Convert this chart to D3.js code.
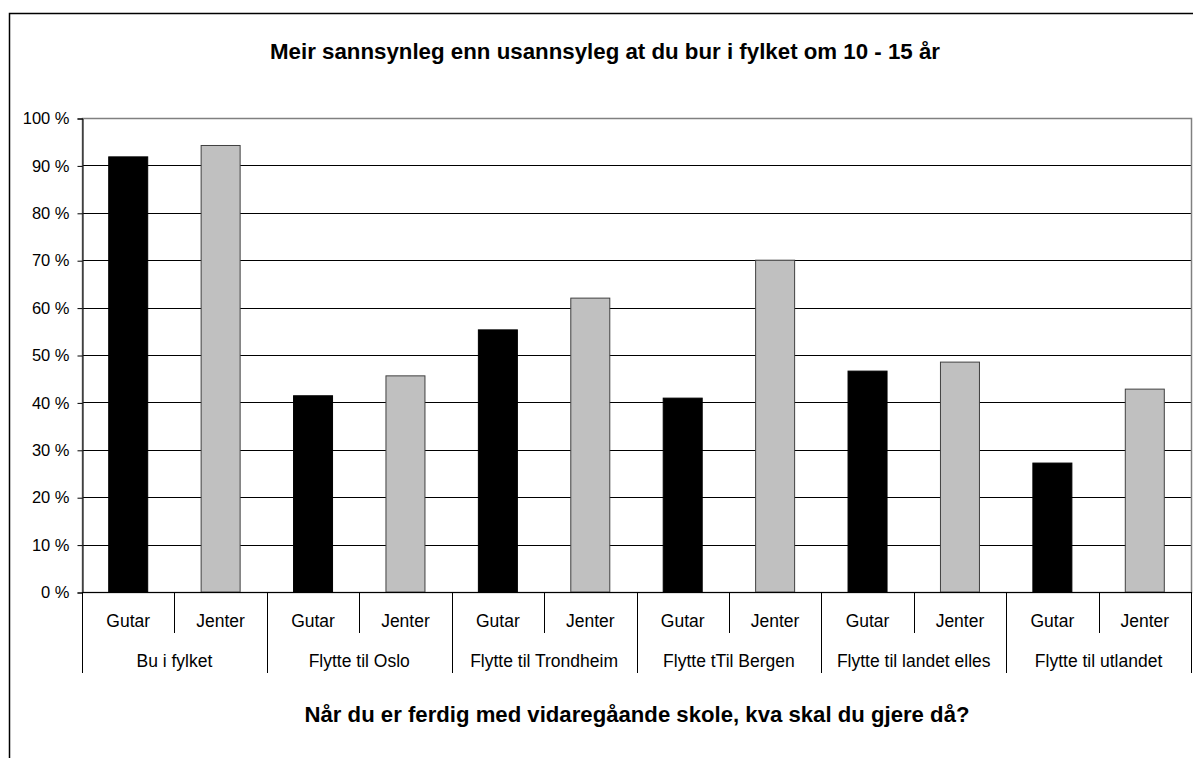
<!DOCTYPE html>
<html>
<head>
<meta charset="utf-8">
<script src="https://cdn.jsdelivr.net/npm/d3@7"></script>
<style>
  body { margin: 0; background: #fff; }
  svg { font-family: "Liberation Sans", Arial, sans-serif; }
</style>
</head>
<body>
<script>
var groups = ["Bu i fylket", "Flytte til Oslo", "Flytte til Trondheim", "Flytte tTil Bergen", "Flytte til landet elles", "Flytte til utlandet"];
var genders = ["Gutar", "Jenter"];
var gutar = [91.8, 41.4, 55.3, 40.9, 46.6, 27.2];
var jenter = [94.2, 45.6, 62.0, 70.0, 48.5, 42.8];
var yTicks = [0, 10, 20, 30, 40, 50, 60, 70, 80, 90, 100];
var title = "Meir sannsynleg enn usannsyleg at du bur i fylket om 10 - 15 år";
var xTitle = "Når du er ferdig med vidaregåande skole, kva skal du gjere då?";

function main() {
  var W = 1193, H = 758;
  var left = 82, right = 1191, top = 118, bottom = 592;

  var svg = d3.select("body").append("svg")
    .attr("width", W)
    .attr("height", H);

  // outer chart frame
  svg.append("rect")
    .attr("x", 9.5).attr("y", 13.5)
    .attr("width", 1300).attr("height", 900)
    .attr("fill", "none")
    .attr("stroke", "#000")
    .attr("stroke-width", 1.5);

  var y = d3.scaleLinear().domain([0, 100]).range([bottom, top]);
  var x0 = d3.scaleBand().domain(groups).range([left, right]);
  var x1 = d3.scaleBand().domain(genders).range([0, x0.bandwidth()])
    .paddingInner(0.578).paddingOuter(0.289);

  // gridlines
  svg.append("g").selectAll("line")
    .data(yTicks.filter(function(d) { return d > 0 && d < 100; }))
    .enter().append("line")
    .attr("x1", left).attr("x2", right)
    .attr("y1", function(d) { return Math.round(y(d)) + 0.5; })
    .attr("y2", function(d) { return Math.round(y(d)) + 0.5; })
    .attr("stroke", "#000");

  // plot area border (gray)
  svg.append("rect")
    .attr("x", left + 0.5).attr("y", Math.round(top) + 0.5)
    .attr("width", right - left).attr("height", bottom - top)
    .attr("fill", "none")
    .attr("stroke", "#808080")
    .attr("stroke-width", 1.5);

  // bars
  var data = [];
  for (var i = 0; i < groups.length; i++) {
    data.push({ group: groups[i], gender: "Gutar", value: gutar[i] });
    data.push({ group: groups[i], gender: "Jenter", value: jenter[i] });
  }
  svg.append("g").selectAll("rect")
    .data(data)
    .enter().append("rect")
    .attr("x", function(d) { return x0(d.group) + x1(d.gender); })
    .attr("y", function(d) { return y(d.value); })
    .attr("width", x1.bandwidth())
    .attr("height", function(d) { return bottom - y(d.value); })
    .attr("fill", function(d) { return d.gender == "Gutar" ? "#000" : "#c0c0c0"; })
    .attr("stroke", function(d) { return d.gender == "Gutar" ? "#000" : "#404040"; })
    .attr("stroke-width", 1);

  // y axis
  var yAxis = d3.axisLeft(y)
    .tickValues(yTicks)
    .tickSize(5)
    .tickPadding(8)
    .tickFormat(function(d) { return d + " %"; });
  var yg = svg.append("g")
    .attr("transform", "translate(" + (left + 0.5) + ",0.5)")
    .call(yAxis);
  yg.select(".domain").attr("stroke", "#000");
  yg.selectAll(".tick line").attr("stroke", "#000");
  yg.selectAll(".tick text")
    .attr("font-size", 16.5)
    .attr("font-family", "Liberation Sans, Arial, sans-serif")
    .attr("fill", "#000");

  // x axis baseline
  svg.append("line")
    .attr("x1", left).attr("x2", right)
    .attr("y1", bottom + 0.5).attr("y2", bottom + 0.5)
    .attr("stroke", "#000");

  // category axis dividers
  var catG = svg.append("g");
  groups.forEach(function(g) {
    catG.append("line")
      .attr("x1", Math.round(x0(g) + x0.bandwidth() / 2) + 0.5)
      .attr("x2", Math.round(x0(g) + x0.bandwidth() / 2) + 0.5)
      .attr("y1", bottom).attr("y2", 633)
      .attr("stroke", "#000");
  });
  var bounds = groups.map(function(g) { return x0(g); }).concat([right]);
  catG.selectAll("line.bound")
    .data(bounds)
    .enter().append("line")
    .attr("class", "bound")
    .attr("x1", function(d) { return Math.round(d) + 0.5; })
    .attr("x2", function(d) { return Math.round(d) + 0.5; })
    .attr("y1", bottom).attr("y2", 673)
    .attr("stroke", "#000");

  // gender labels
  catG.selectAll("text.gender")
    .data(data)
    .enter().append("text")
    .attr("class", "gender")
    .attr("x", function(d) { return x0(d.group) + x1(d.gender) + x1.bandwidth() / 2; })
    .attr("y", 627)
    .attr("text-anchor", "middle")
    .attr("font-size", 17.5)
    .text(function(d) { return d.gender; });

  // group labels
  catG.selectAll("text.group")
    .data(groups)
    .enter().append("text")
    .attr("class", "group")
    .attr("x", function(d) { return x0(d) + x0.bandwidth() / 2; })
    .attr("y", 667)
    .attr("text-anchor", "middle")
    .attr("font-size", 17.5)
    .text(function(d) { return d; });

  // titles
  svg.append("text")
    .attr("x", 605).attr("y", 59)
    .attr("text-anchor", "middle")
    .attr("font-size", 22.5)
    .attr("font-weight", "bold")
    .attr("textLength", 670)
    .attr("lengthAdjust", "spacingAndGlyphs")
    .text(title);

  svg.append("text")
    .attr("x", 637).attr("y", 722)
    .attr("text-anchor", "middle")
    .attr("font-size", 22.5)
    .attr("font-weight", "bold")
    .attr("textLength", 665)
    .attr("lengthAdjust", "spacingAndGlyphs")
    .text(xTitle);
}

main();
</script>
</body>
</html>
